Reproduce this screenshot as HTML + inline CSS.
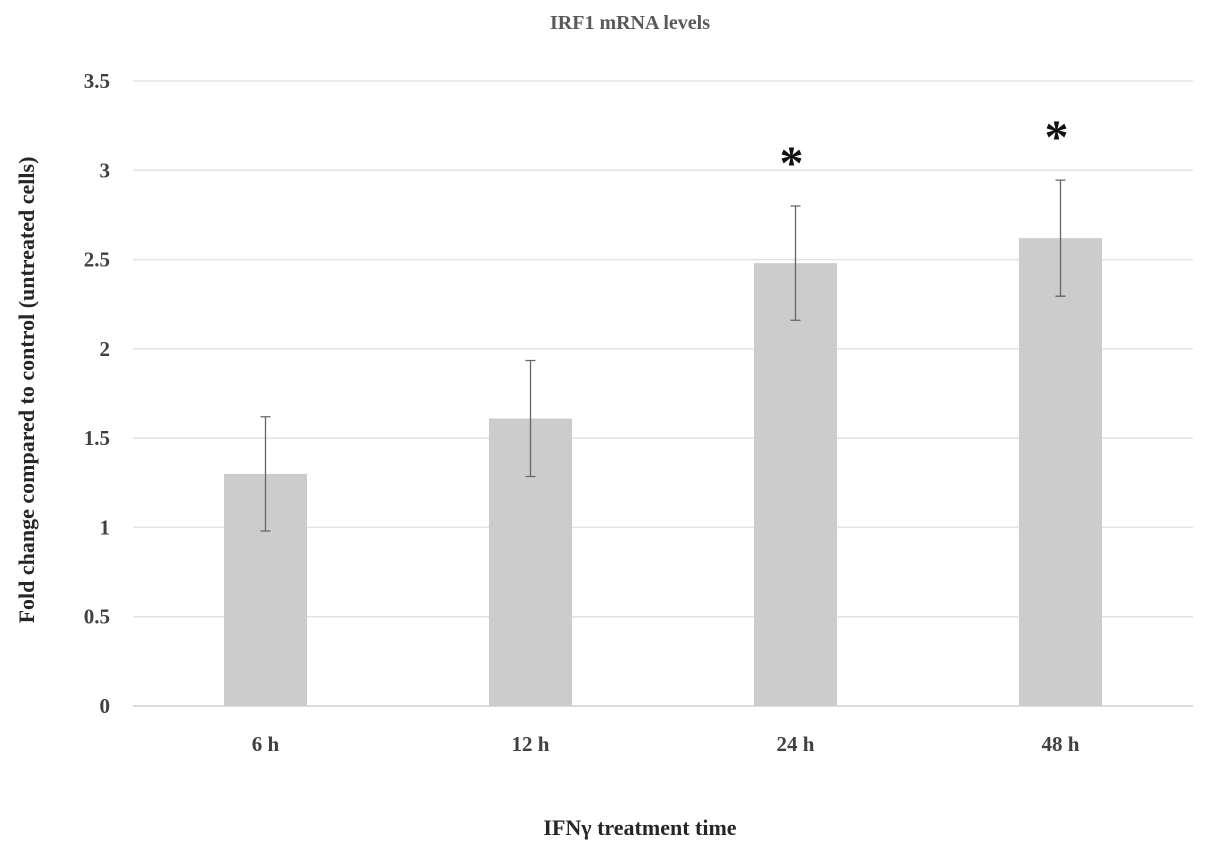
<!DOCTYPE html>
<html><head><meta charset="utf-8"><style>
html,body{margin:0;padding:0;background:#fff;}
svg text{font-family:"Liberation Serif",serif;font-weight:bold;}
</style></head><body>
<svg id="chart" width="1205" height="855" xmlns="http://www.w3.org/2000/svg">
<text x="630" y="29" text-anchor="middle" font-size="20" fill="#595959">IRF1 mRNA levels</text>
<text x="640" y="835" text-anchor="middle" font-size="22" fill="#262626">IFNγ treatment time</text>
<text transform="translate(34,390) rotate(-90)" text-anchor="middle" font-size="22" fill="#262626">Fold change compared to control (untreated cells)</text>
<g id="grid"></g><g id="bars"></g>
</svg>
<script>
const categories=["6 h","12 h","24 h","48 h"];
const values=[1.30,1.61,2.48,2.62];
const errors=[0.32,0.325,0.32,0.325];
const significant=[false,false,true,true];
const yTicks=[0,0.5,1,1.5,2,2.5,3,3.5];
const NS="http://www.w3.org/2000/svg";
const x0=133,x1=1193,y0=706,yTop=81,yMax=3.5;
const y=v=>y0-(v/yMax)*(y0-yTop);
const band=(x1-x0)/categories.length;
const xc=i=>x0+band*(i+0.5);
function mk(t,a,p){const e=document.createElementNS(NS,t);for(const k in a)e.setAttribute(k,a[k]);p.appendChild(e);return e;}
const g=document.getElementById('grid'),b=document.getElementById('bars');
yTicks.forEach(t=>{
 const l=mk('line',{x1:x0,x2:x1,y1:y(t),y2:y(t),stroke:t===0?'#d0d0d0':'#e3e3e3','stroke-width':1.5},g);
 
 
 const tx=mk('text',{x:110,y:y(t)+7,'text-anchor':'end','font-size':21,fill:'#404040'},g);
 tx.textContent=String(t);
 
 
});
categories.forEach((c,i)=>{
 const cx=xc(i),w=83;
 const r=mk('rect',{x:cx-w/2,y:y(values[i]),width:w,height:y0-y(values[i]),fill:'#cccccc'},b);
 
 
 const hi=y(values[i]+errors[i]),lo=y(values[i]-errors[i]);
 const e=mk('path',{d:`M${cx},${hi}V${lo}M${cx-5},${hi}H${cx+5}M${cx-5},${lo}H${cx+5}`,stroke:'#666','stroke-width':1.3,fill:'none'},b);
 
 
 const tx=mk('text',{x:cx,y:y0+45,'text-anchor':'middle','font-size':21,fill:'#404040'},b);
 tx.textContent=c;
 
 
 if(significant[i]){
  const s=mk('text',{x:cx-4,y:hi-27,'text-anchor':'middle','font-size':48,fill:'#111','font-family':'Liberation Sans,sans-serif'},b);
  s.textContent='*';
  
  
 }
});
</script>
</body></html>
